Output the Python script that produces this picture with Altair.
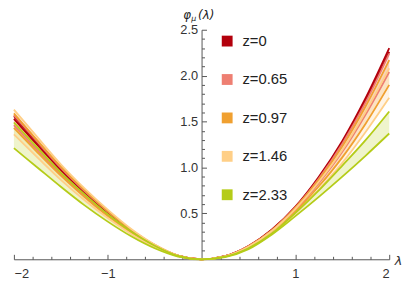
import altair as alt
import pandas as pd

# ---- data ----
lam = [-2, -1.75, -1.5, -1.25, -1, -0.75, -0.5, -0.25, 0,
       0.25, 0.5, 0.75, 1, 1.25, 1.5, 1.75, 2]

labels = ["z=0", "z=0.65", "z=0.97", "z=1.46", "z=2.33"]
colors = ["#b3000c", "#ee7f72", "#f0a030", "#ffcf87", "#b5cc18"]

z0_hi = [1.56, 1.27, 0.99, 0.74, 0.515, 0.317, 0.155, 0.039, 0, 0.035, 0.145, 0.325, 0.575, 0.90, 1.29, 1.76, 2.30]
z0_lo = [1.53, 1.245, 0.97, 0.725, 0.505, 0.31, 0.151, 0.038, 0, 0.034, 0.142, 0.32, 0.565, 0.885, 1.27, 1.73, 2.26]
z065_hi = [1.57, 1.28, 0.995, 0.745, 0.52, 0.32, 0.156, 0.039, 0, 0.034, 0.142, 0.318, 0.565, 0.88, 1.26, 1.71, 2.24]
z065_lo = [1.46, 1.19, 0.925, 0.695, 0.48, 0.296, 0.145, 0.036, 0, 0.032, 0.135, 0.305, 0.54, 0.83, 1.17, 1.58, 2.04]
z097_hi = [1.59, 1.295, 1.01, 0.755, 0.525, 0.323, 0.157, 0.04, 0, 0.033, 0.14, 0.315, 0.56, 0.865, 1.23, 1.67, 2.17]
z097_lo = [1.43, 1.165, 0.91, 0.68, 0.47, 0.29, 0.142, 0.036, 0, 0.031, 0.13, 0.295, 0.52, 0.795, 1.11, 1.48, 1.90]
z146_hi = [1.63, 1.33, 1.035, 0.775, 0.54, 0.33, 0.161, 0.041, 0, 0.032, 0.137, 0.31, 0.55, 0.845, 1.19, 1.61, 2.08]
z146_lo = [1.36, 1.11, 0.865, 0.645, 0.45, 0.276, 0.135, 0.034, 0, 0.03, 0.125, 0.285, 0.5, 0.76, 1.05, 1.39, 1.76]
z233_hi = [1.49, 1.215, 0.945, 0.71, 0.49, 0.302, 0.148, 0.037, 0, 0.028, 0.12, 0.28, 0.505, 0.75, 1.02, 1.30, 1.61]
z233_lo = [1.21, 1.0, 0.79, 0.59, 0.41, 0.25, 0.12, 0.03, 0, 0.024, 0.11, 0.27, 0.47, 0.68, 0.90, 1.13, 1.37]

his = [z0_hi, z065_hi, z097_hi, z146_hi, z233_hi]
los = [z0_lo, z065_lo, z097_lo, z146_lo, z233_lo]

x_major = [-2, -1, 1, 2]
x_minor = [-1.8, -1.6, -1.4, -1.2, -0.8, -0.6, -0.4, -0.2,
           0.2, 0.4, 0.6, 0.8, 1.2, 1.4, 1.6, 1.8]
y_major = [0.5, 1.0, 1.5, 2.0, 2.5]
y_minor = [0.1, 0.2, 0.3, 0.4, 0.6, 0.7, 0.8, 0.9, 1.1, 1.2, 1.3, 1.4,
           1.6, 1.7, 1.8, 1.9, 2.1, 2.2, 2.3, 2.4]

# ---- tables ----
area_rows, line_rows = [], []
for lab, hi, lo in zip(labels, his, los):
    for l, h, o in zip(lam, hi, lo):
        area_rows.append({"lam": l, "hi": h, "lo": o, "z": lab})
        line_rows.append({"lam": l, "v": h, "z": lab, "b": "hi"})
        line_rows.append({"lam": l, "v": o, "z": lab, "b": "lo"})
area_df = pd.DataFrame(area_rows)
line_df = pd.DataFrame(line_rows)

W, H = 381, 233
AX = "#555555"
FONT = "Liberation Sans"

xs = alt.Scale(domain=[-2, 2], nice=False, zero=False)
ys = alt.Scale(domain=[0, 2.5], nice=False, zero=False)
cs = alt.Scale(domain=labels, range=colors)

areas = alt.Chart(area_df).mark_area(interpolate="monotone", fillOpacity=0.22).encode(
    x=alt.X("lam:Q", scale=xs, axis=alt.Axis(
        orient="bottom", values=x_major, format="d", tickSize=0, grid=False,
        domainColor=AX, labelColor="#333333", labelFont=FONT, labelFontSize=13,
        labelPadding=9, title="λ", titleX=W + 5, titleY=1, titleAlign="left",
        titleBaseline="middle", titleAngle=0, titleFontStyle="italic",
        titleFontWeight="normal", titleFont="DejaVu Sans", titleFontSize=13,
        titleColor="#333333")),
    y=alt.Y("lo:Q", scale=ys, axis=alt.Axis(
        orient="left", offset=-W / 2, values=y_major, format=".1f", tickSize=0,
        grid=False, domainColor=AX, labelColor="#333333", labelFont=FONT,
        labelFontSize=13, labelPadding=4, title=None)),
    y2="hi:Q",
    color=alt.Color("z:N", scale=cs, legend=alt.Legend(
        title=None, orient="none", legendX=209, legendY=4, padding=0,
        symbolType="square", symbolSize=121, symbolStrokeWidth=0,
        symbolOpacity=1, labelFont=FONT, labelFontSize=15, labelColor="#222222",
        labelOffset=8, rowPadding=23)),
)

lines = alt.Chart(line_df).mark_line(interpolate="monotone", strokeWidth=1.8).encode(
    x=alt.X("lam:Q", scale=xs, axis=alt.Axis(
        orient="top", offset=-H, values=x_major, tickSize=5, tickColor=AX,
        labels=False, domain=False, grid=False, title=None)),
    y=alt.Y("v:Q", scale=ys, axis=alt.Axis(
        orient="right", offset=-W / 2, values=y_major, tickSize=5, tickColor=AX,
        labels=False, domain=False, grid=False, title=None)),
    color=alt.Color("z:N", scale=cs, legend=None),
    detail="b:N",
)

minor = alt.Chart(line_df).mark_line(opacity=0).encode(
    x=alt.X("lam:Q", scale=xs, axis=alt.Axis(
        orient="top", offset=-H, values=x_minor, tickSize=3, tickColor=AX,
        labels=False, domain=False, grid=False, title=None)),
    y=alt.Y("v:Q", scale=ys, axis=alt.Axis(
        orient="right", offset=-W / 2, values=y_minor, tickSize=3, tickColor=AX,
        labels=False, domain=False, grid=False, title=None)),
    detail="b:N",
)

t_phi = alt.Chart(pd.DataFrame({"t": ["φ"]})).mark_text(
    font="DejaVu Sans", fontSize=12, fontStyle="italic", align="left",
    baseline="top", color="#222222").encode(
    text="t:N", x=alt.value(172), y=alt.value(-20))
t_mu = alt.Chart(pd.DataFrame({"t": ["μ"]})).mark_text(
    font="DejaVu Sans", fontSize=8, fontStyle="italic", align="left",
    baseline="top", color="#222222").encode(
    text="t:N", x=alt.value(180), y=alt.value(-15))
t_lam = alt.Chart(pd.DataFrame({"t": ["(λ)"]})).mark_text(
    font="DejaVu Sans", fontSize=12, fontStyle="italic", align="left",
    baseline="top", color="#222222").encode(
    text="t:N", x=alt.value(187), y=alt.value(-20))

chart = alt.layer(areas, lines, minor, t_phi, t_mu, t_lam).resolve_axis(
    x="independent", y="independent"
).properties(
    width=W, height=H,
    padding={"left": 6, "top": 20, "right": 15, "bottom": 22},
    autosize=alt.AutoSizeParams(type="none"),
).configure_view(stroke=None)

chart.save("out.html", embed_options={"renderer": "svg", "actions": False})
